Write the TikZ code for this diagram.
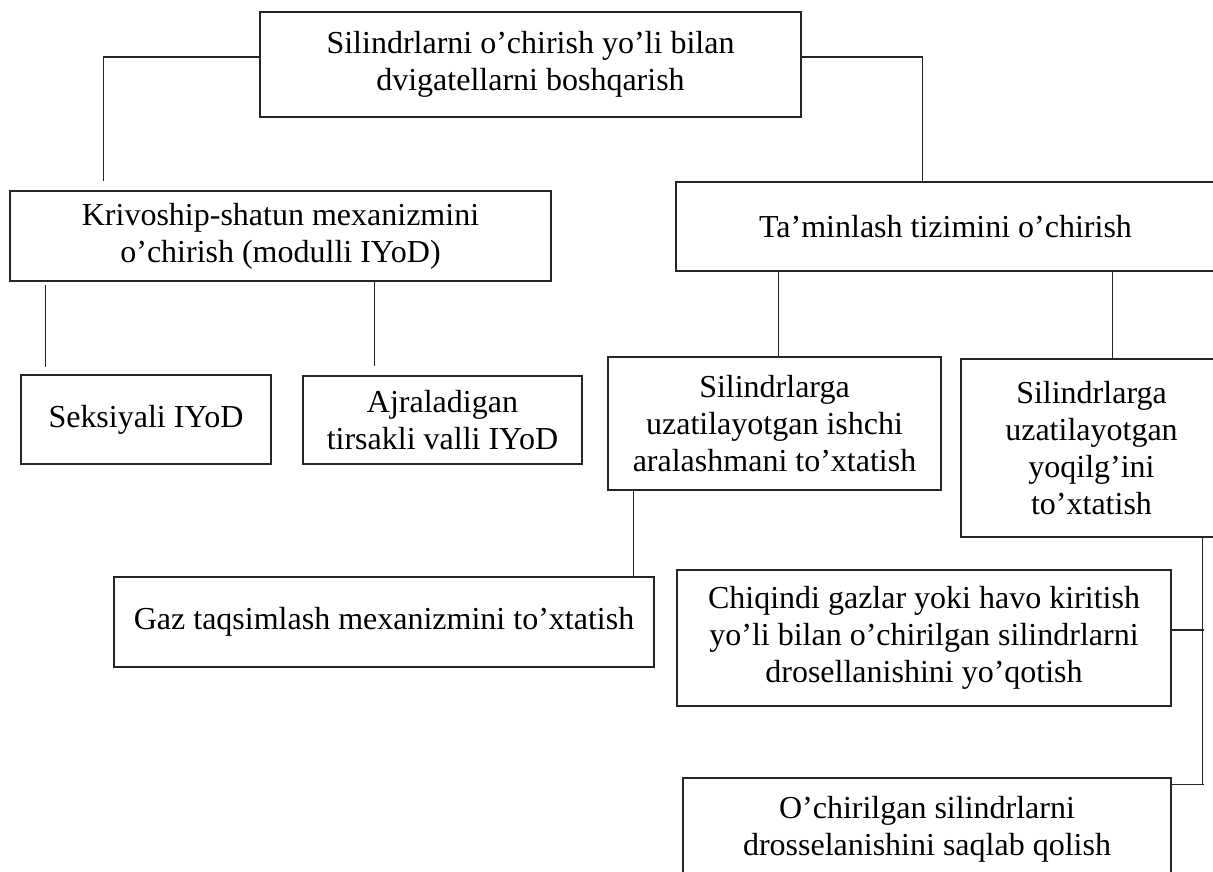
\documentclass[tikz,border=0pt]{standalone}
\usepackage{fontspec}
\setmainfont{Liberation Serif}
\usetikzlibrary{positioning}

\begin{document}
\begin{tikzpicture}[x=1pt, y=-1pt, line width=1.2pt,
  blok/.style={draw=black!85, align=center, font=\fontsize{32}{36.8}\selectfont},
  bog/.style={draw=black!85}]
\tikzstyle{every node}+=[inner sep=0pt]
\useasboundingbox (0,0) rectangle (1213,872);
% boxes
\node[blok, minimum width=541, minimum height=105] (root) at (530.5,64.5) {Silindrlarni o’chirish yo’li bilan\\dvigatellarni boshqarish};
\node[blok, minimum width=541, minimum height=90] (kriv) at (280.5,236) {Krivoship-shatun mexanizmini\\o’chirish (modulli IYoD)};
\node[blok, minimum width=539, minimum height=89] (tamin) at (945.5,226.5) {Ta’minlash tizimini o’chirish};
\node[blok, minimum width=250, minimum height=89] (seks) at (146,419.5) {Seksiyali IYoD};
\node[blok, minimum width=279, minimum height=88] (ajr) at (442.5,420) {Ajraladigan\\tirsakli valli IYoD};
\node[blok, minimum width=333, minimum height=133] (ishchi) at (774.5,423.5) {Silindrlarga\\uzatilayotgan ishchi\\aralashmani to’xtatish};
\node[blok, minimum width=261, minimum height=178] (yoq) at (1091.5,448) {Silindrlarga\\uzatilayotgan\\yoqilg’ini\\to’xtatish};
\node[blok, minimum width=540, minimum height=90] (gaz) at (384,622) {Gaz taqsimlash mexanizmini to’xtatish};
\node[blok, minimum width=494, minimum height=136] (chiq) at (924,638) {Chiqindi gazlar yoki havo kiritish\\yo’li bilan o’chirilgan silindrlarni\\drosellanishini yo’qotish};
\node[blok, minimum width=488, minimum height=102] (ochir) at (927,829) {O’chirilgan silindrlarni\\drosselanishini saqlab qolish};
% connectors
\draw[bog, shorten >=9pt] ([yshift=7.5pt]root.west) -| ([xshift=94pt]kriv.north west);
\draw[bog] ([yshift=7.5pt]root.east) -| ([xshift=247pt]tamin.north west);
\draw[bog, shorten <=3pt, shorten >=7pt] ([xshift=36pt]kriv.south west) -- ([xshift=25pt]seks.north west);
\draw[bog, shorten >=9pt] ([xshift=365pt]kriv.south west) -- ([xshift=72pt]ajr.north west);
\draw[bog] ([xshift=103pt]tamin.south west) -- ([xshift=171pt]ishchi.north west);
\draw[bog] ([xshift=437pt]tamin.south west) -- ([xshift=152pt]yoq.north west);
\draw[bog] ([xshift=26pt]ishchi.south west) -- ([xshift=520pt]gaz.north west);
\coordinate (bus) at ([xshift=242pt]yoq.south west);
\coordinate (chiqR) at ([yshift=8pt]chiq.east);
\coordinate (ochirR) at ([yshift=-7pt]ochir.north east);
\draw[bog] (bus) -- (bus |- ochirR);
\draw[bog, shorten >=-2pt] (chiqR) -- (bus |- chiqR);
\draw[bog, shorten >=-2pt] (ochirR) -- (bus |- ochirR);
\end{tikzpicture}
\end{document}
